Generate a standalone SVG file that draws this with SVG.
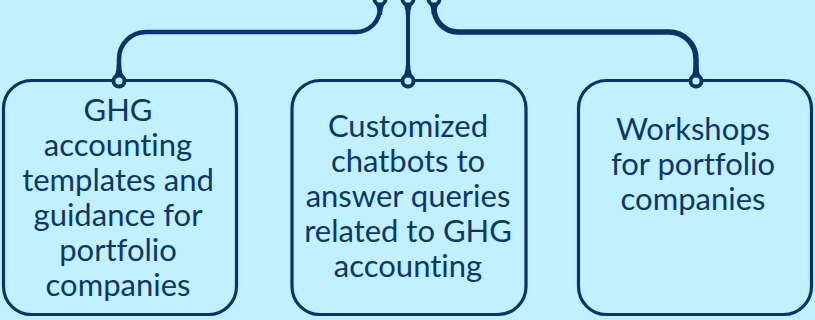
<svg xmlns="http://www.w3.org/2000/svg" width="815" height="320" viewBox="0 0 815 320">
<style>
.box{fill:#C1F0FE;stroke:#0A3369;stroke-width:3.2}
.lbl{font-family:Lato,"Open Sans","Liberation Sans",sans-serif;font-size:31px;fill:#0B3769;text-anchor:middle;font-variant-ligatures:none}
.wire{fill:none;stroke:#0A3369;stroke-linecap:butt}
.dot{fill:#0A3369}
.hole{fill:#C1F0FE}
</style>
<defs>
<g id="pinDown">
<path class="dot" d="M-7,-2 Q-2.2,-7 -2.2,-16 L2.2,-16 Q2.2,-7 7,-2 Z"/>
<circle class="dot" r="7.5"/>
<circle class="hole" r="3.6"/>
</g>
<g id="pinUp">
<path class="dot" d="M-7,2 Q-2.2,7 -2.2,16 L2.2,16 Q2.2,7 7,2 Z"/>
<circle class="dot" r="7.5"/>
<circle class="hole" r="3.6"/>
</g>
</defs>
<rect width="815" height="320" fill="#C1F0FE"/>
<g id="n1">
<rect class="box" x="3.5" y="80.5" width="233" height="234" rx="28"/>
<text class="lbl"><tspan x="118" y="121">GHG</tspan><tspan x="118" y="156">accounting</tspan><tspan x="118" y="191">templates and</tspan><tspan x="118" y="226">guidance for</tspan><tspan x="118" y="261">portfolio</tspan><tspan x="118" y="296">companies</tspan></text>
</g>
<g id="n2">
<rect class="box" x="292" y="80.5" width="234" height="234" rx="28"/>
<text class="lbl"><tspan x="408" y="137">Customized</tspan><tspan x="408" y="172">chatbots to</tspan><tspan x="408" y="207">answer queries</tspan><tspan x="408" y="242">related to GHG</tspan><tspan x="408" y="277">accounting</tspan></text>
</g>
<g id="n3">
<rect class="box" x="578.5" y="80.5" width="233" height="234" rx="28"/>
<text class="lbl"><tspan x="693" y="140">Workshops</tspan><tspan x="693" y="175">for portfolio</tspan><tspan x="693" y="210">companies</tspan></text>
</g>
<g id="connectors">
<path class="wire" stroke-width="4.5" d="M380,0 L380,8 A24,24 0 0 1 356,32 L146,32 A27,27 0 0 0 119,59 L119,80"/>
<path class="wire" stroke-width="4" d="M408,0 L408,80"/>
<path class="wire" stroke-width="5.5" d="M434,0 L434,8 A24,24 0 0 0 458,32 L669,32 A27,27 0 0 1 696,59 L696,80"/>
<use href="#pinUp" x="380" y="-1"/>
<use href="#pinUp" x="408" y="-1"/>
<use href="#pinUp" x="434" y="-1"/>
<use href="#pinDown" x="119" y="81"/>
<use href="#pinDown" x="408" y="81"/>
<use href="#pinDown" x="696" y="81"/>
</g>
</svg>
